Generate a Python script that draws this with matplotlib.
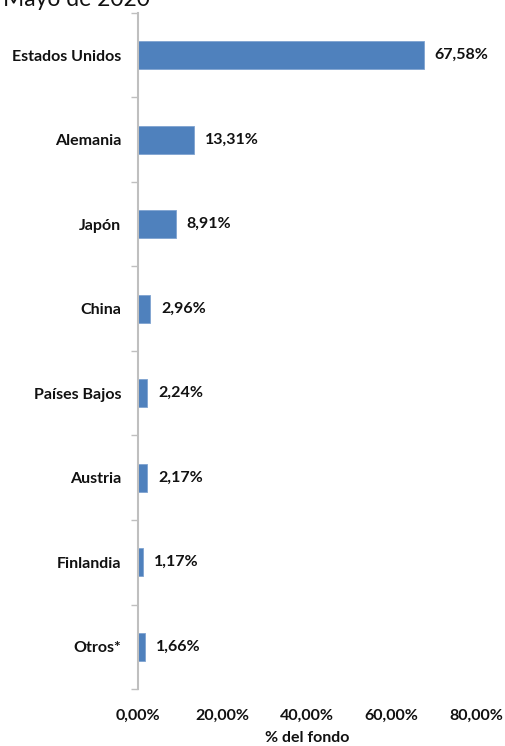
import matplotlib.pyplot as plt
import numpy as np

paises = ['Estados Unidos', 'Alemania', 'Japón', 'China', 'Países Bajos',
          'Austria', 'Finlandia', 'Otros*']
porcentajes = [67.58, 13.31, 8.91, 2.96, 2.24, 2.17, 1.17, 1.66]
ticks_x = [0, 20, 40, 60, 80]

plt.rcParams['font.family'] = ['Lato', 'DejaVu Sans']
fs = 11.5
negro = '#111111'

fig = plt.figure(figsize=(5.06, 7.46), dpi=100)
ax = fig.add_axes([0.2727, 0.0764, 0.668, 0.9062])

pos = np.arange(len(paises))
ax.barh(pos, porcentajes, height=0.33, color='#4F81BD', edgecolor='#7FA3D0', linewidth=0.6)

for y, v in zip(pos, porcentajes):
    ax.annotate(f'{v:.2f}%'.replace('.', ','), (v, y), xytext=(8, 0),
                textcoords='offset points', va='center', ha='left',
                fontsize=fs, fontweight='bold', color=negro)

ax.set_xlim(0, 80)
ax.set_ylim(len(paises) - 0.5, -0.5)
ax.set_yticks(pos)
ax.set_yticklabels(paises, fontsize=fs, fontweight='bold', color=negro)
ax.set_yticks(np.arange(-0.5, len(paises)), minor=True)
ax.tick_params(axis='y', which='major', length=0, pad=12)
ax.tick_params(axis='y', which='minor', length=5, color='#BFBFBF', width=1)
ax.set_xticks(ticks_x)
ax.set_xticklabels([f'{t:.2f}%'.replace('.', ',') for t in ticks_x],
                   fontsize=fs, fontweight='bold', color=negro)
ax.tick_params(axis='x', length=0, pad=14)
ax.set_xlabel('% del fondo', fontsize=fs, fontweight='bold', color=negro, labelpad=6)

for s in ['top', 'right', 'bottom']:
    ax.spines[s].set_visible(False)
ax.spines['left'].set_color('#BFBFBF')
ax.spines['left'].set_linewidth(1.5)

fig.text(0.006, 1 - 5.5 / 746, 'Mayo de 2020', fontsize=16.5, ha='left', va='baseline', color=negro)

fig.savefig('out.png', dpi=100)
